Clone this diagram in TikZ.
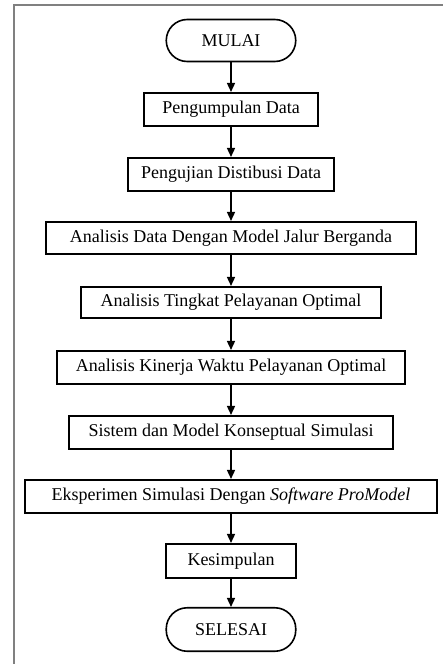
\documentclass[tikz,border=0pt]{standalone}
\usepackage{fontspec}
\setmainfont{Liberation Serif}
\usetikzlibrary{arrows.meta}
\definecolor{framegray}{RGB}{128,128,128}
\begin{document}
\begin{tikzpicture}[x=1pt,y=-1pt,
  box/.style={draw,line width=1.6pt,minimum height=33.5pt,inner sep=0pt,font=\fontsize{18}{21}\selectfont},
  term/.style={box,rounded corners=21pt,minimum height=42pt},
  arr/.style={line width=1.5pt,-{Triangle[length=9pt,width=8pt]}}]
\useasboundingbox (0,0) rectangle (443,664);
\draw[line width=2pt,framegray] (443,5) -- (14,5) -- (14,664);
\node[term,minimum width=129.5pt] (n0) at (231,40.5) {MULAI};
\node[box,minimum width=173.5pt] (n1) at (231,109.5) {Pengumpulan Data};
\node[box,minimum width=206.5pt] (n2) at (231,174.5) {Pengujian Distibusi Data};
\node[box,minimum width=370.5pt,minimum height=32.5pt] (n3) at (231,238) {Analisis Data Dengan Model Jalur Berganda};
\node[box,minimum width=300.5pt,minimum height=31.5pt] (n4) at (231,302.5) {Analisis Tingkat Pelayanan Optimal};
\node[box,minimum width=347.5pt] (n5) at (231,367.5) {Analisis Kinerja Waktu Pelayanan Optimal};
\node[box,minimum width=324.5pt] (n6) at (231,432.5) {Sistem dan Model Konseptual Simulasi};
\node[box,minimum width=412.5pt] (n7) at (231,496.5) {Eksperimen Simulasi Dengan \textit{Software ProModel}};
\node[box,minimum width=129.5pt,minimum height=34.5pt] (n8) at (231,561) {Kesimpulan};
\node[term,minimum width=129.5pt,minimum height=43.5pt] (n9) at (231,629.5) {SELESAI};
\draw[arr] (n0) -- (n1);
\draw[arr] (n1) -- (n2);
\draw[arr] (n2) -- (n3);
\draw[arr] (n3) -- (n4);
\draw[arr] (n4) -- (n5);
\draw[arr] (n5) -- (n6);
\draw[arr] (n6) -- (n7);
\draw[arr] (n7) -- (n8);
\draw[arr] (n8) -- (n9);
\end{tikzpicture}
\end{document}
